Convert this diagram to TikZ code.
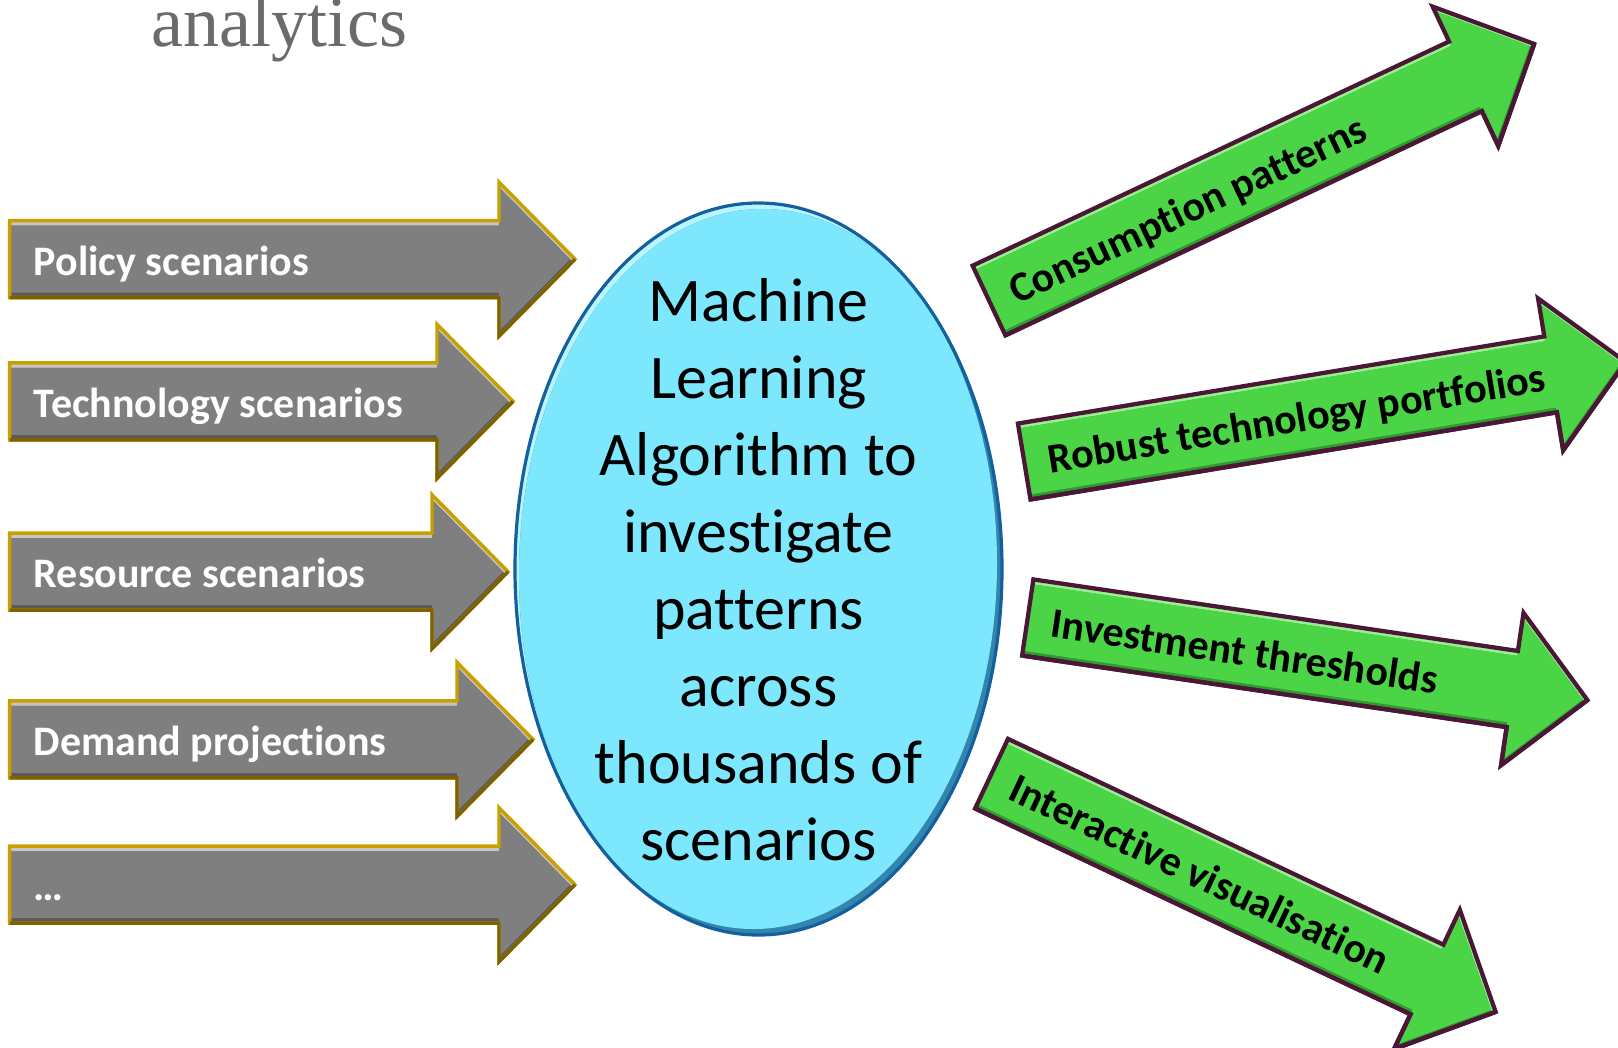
\documentclass[tikz,border=0pt]{standalone}
\usepackage{fontspec}
\setmainfont{Carlito}[Ligatures={TeX,NoCommon,NoContextual}]
\newfontfamily\titleserif{Liberation Serif}

% colours
\definecolor{greybase}{HTML}{7F7F7F}
\definecolor{greyhi}{HTML}{C6C6C6}
\definecolor{greylo}{HTML}{5A5A5A}
\definecolor{goldline}{HTML}{C8A000}
\definecolor{golddark}{HTML}{7E6200}
\definecolor{grnbase}{HTML}{4CD447}
\definecolor{grnhi}{HTML}{98F090}
\definecolor{grnlo}{HTML}{309C30}
\definecolor{maroonline}{HTML}{4A1736}
\definecolor{cyanbase}{HTML}{7DE8FD}
\definecolor{cyanhi}{HTML}{B9F4FF}
\definecolor{cyanlo}{HTML}{3286AE}
\definecolor{blueline}{HTML}{14609E}
\definecolor{titlegrey}{HTML}{6B6B6B}

% block arrow: #1 colour set, #2 tail centre, #3 angle, #4 shaft length, #5 name, #6 label
\newcommand\blockarrow[6]{%
\begin{scope}[shift={#2}, rotate=#3]
  \def\arrowoutline{(0,-38.5) -- (#4,-38.5) -- (#4,-77) -- ({#4+76},0) -- (#4,77) -- (#4,38.5) -- (0,38.5) -- cycle}
  \begin{scope}
    \clip \arrowoutline;
    \fill[#1hi] \arrowoutline;
    \fill[#1lo, shift={(0,5)}] \arrowoutline;
    \begin{scope}[shift={(0,5)}]
      \clip \arrowoutline;
      \fill[#1base, shift={(0,-10)}] \arrowoutline;
    \end{scope}
  \end{scope}
  \draw[#1edge] \arrowoutline;
  \draw[#1dark] (0,38.5) -- (#4,38.5) -- (#4,77) -- ({#4+76},0);
  \node[#1text, anchor=base west, transform shape] (#5) at (24,16) {#6};
\end{scope}}

\begin{document}
\begin{tikzpicture}[x=0.75pt, y=-0.75pt,
  greyhi/.style={fill=greyhi},
  greylo/.style={fill=greylo},
  greybase/.style={fill=greybase},
  greyedge/.style={draw=goldline, line width=2.6pt, line join=miter},
  greydark/.style={draw=golddark, line width=2.6pt, line join=miter},
  greytext/.style={text=white, inner sep=0pt, font=\fontsize{31.5}{38}\selectfont\bfseries},
  grnhi/.style={fill=grnhi},
  grnlo/.style={fill=grnlo},
  grnbase/.style={fill=grnbase},
  grnedge/.style={draw=maroonline, line width=3.2pt, line join=miter},
  grndark/.style={draw=maroonline, line width=3.2pt, line join=miter},
  grntext/.style={text=black, inner sep=0pt, font=\fontsize{31.5}{38}\selectfont\bfseries},
  cyanhi/.style={fill=cyanhi},
  cyanlo/.style={fill=cyanlo},
  cyanbase/.style={fill=cyanbase},
  cyanedge/.style={draw=blueline, line width=2.4pt},
  mltext/.style={align=center, inner sep=0pt, text=black, font=\fontsize{46.5}{57.7}\selectfont},
]
\useasboundingbox (0,0) rectangle (1618,1047);
\clip (0,0) rectangle (1618,1047);

% heading
\node[anchor=base west, inner sep=0pt, text=titlegrey,
      font=\fontsize{54}{60}\selectfont\titleserif] (title) at (151,46.7) {analytics};

% inputs
\blockarrow{grey}{(9.6,259.2)}{0}{489.4}{policy}{Policy scenarios}
\blockarrow{grey}{(9.6,401.3)}{0}{427.4}{tech}{Technology scenarios}
\blockarrow{grey}{(9.6,571.7)}{0}{422.4}{resource}{Resource scenarios}
\blockarrow{grey}{(9.6,739.4)}{0}{447.4}{demand}{Demand projections}
\blockarrow{grey}{(9.6,884.7)}{0}{489.4}{more}{…}

% central algorithm
\begin{scope}
  \clip (758.5,569) ellipse [x radius=243.5, y radius=366];
  \fill[cyanhi] (758.5,569) ellipse [x radius=243.5, y radius=366];
  \fill[cyanlo, shift={(4,6)}] (758.5,569) ellipse [x radius=243.5, y radius=366];
  \begin{scope}[shift={(4,6)}]
    \clip (758.5,569) ellipse [x radius=243.5, y radius=366];
    \fill[cyanbase, shift={(-9,-12)}] (758.5,569) ellipse [x radius=243.5, y radius=366];
  \end{scope}
\end{scope}
\draw[cyanedge] (758.5,569) ellipse [x radius=243.5, y radius=366];
\node[mltext] (ml) at (758.5,569.5)
  {Machine\\Learning\\Algorithm to\\investigate\\patterns\\across\\thousands of\\scenarios};

% outputs
\blockarrow{grn}{(989,300.5)}{25.2}{526.6}{consumption}{Consumption patterns}
\blockarrow{grn}{(1024.2,461.5)}{9.4}{533.6}{robust}{Robust technology portfolios}
\blockarrow{grn}{(1027.75,617.5)}{-8.4}{489.8}{invest}{Investment thresholds}
\blockarrow{grn}{(991.55,773.65)}{-25.3}{481.6}{visual}{Interactive visualisation}
\end{tikzpicture}
\end{document}
